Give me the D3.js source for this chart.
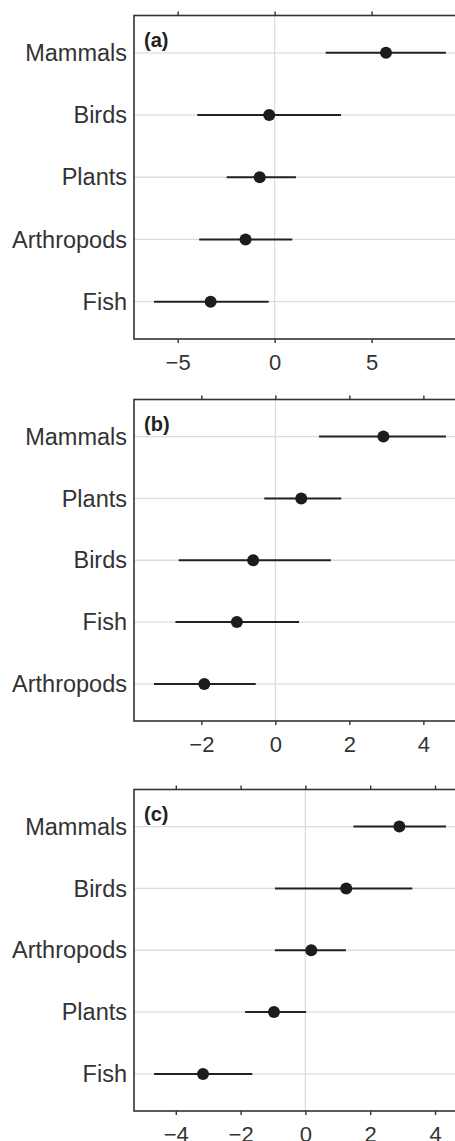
<!DOCTYPE html>
<html>
<head>
<meta charset="utf-8">
<script src="https://cdn.jsdelivr.net/npm/d3@7"></script>
<style>
    body { margin: 0; background: #fff; }
    svg { display: block; font-family: "Liberation Sans", Arial, Helvetica, sans-serif; }
    .grid { stroke: #dcdcdc; stroke-width: 1.3; }
    .frame { fill: none; stroke: #333; stroke-width: 1.6; }
    .bar { stroke: #222; stroke-width: 2; }
    .dot { fill: #1c1c1c; }
    .cat { fill: #333; font-size: 23.5px; }
    .tick text { fill: #333; font-size: 22px; }
    .tick line { stroke: #333; stroke-width: 1.4; }
    .tag { fill: #222; font-size: 20px; font-weight: bold; }
</style>
</head>
<body>
<svg id="vis_svg" width="455" height="1141"></svg>
<script>
// panel (a)
let catsA = ['Mammals', 'Birds', 'Plants', 'Arthropods', 'Fish'];
let estA = [5.74, -0.28, -0.77, -1.50, -3.30];
let lowA = [2.63, -3.99, -2.47, -3.89, -6.22];
let highA = [8.83, 3.42, 1.10, 0.91, -0.31];
let ticksA = [-5, 0, 5];
let domainA = [-7.25, 10.07];

// panel (b)
let catsB = ['Mammals', 'Plants', 'Birds', 'Fish', 'Arthropods'];
let estB = [2.92, 0.70, -0.60, -1.04, -1.92];
let lowB = [1.18, -0.30, -2.61, -2.70, -3.28];
let highB = [4.61, 1.78, 1.50, 0.64, -0.53];
let ticksB = [-2, 0, 2, 4];
let domainB = [-3.82, 5.26];

// panel (c)
let catsC = ['Mammals', 'Birds', 'Arthropods', 'Plants', 'Fish'];
let estC = [2.90, 1.26, 0.18, -0.97, -3.16];
let lowC = [1.48, -0.94, -0.94, -1.86, -4.67];
let highC = [4.34, 3.30, 1.25, 0.02, -1.64];
let ticksC = [-4, -2, 0, 2, 4];
let domainC = [-5.29, 5.08];

let svg = d3.select('svg#vis_svg');

// plot area is wider than the window, right side is cut off like the original
let left = 134;
let right = 470;

/**
 * Draw one forest-plot panel.
 */
function drawPanel(tag, cats, est, low, high, ticks, domain, top, bottom) {
    let x = d3.scaleLinear().domain(domain).range([left, right]);
    let y = d3.scalePoint().domain(cats).range([top, bottom]).padding(0.6);

    let rows = cats.map((c, i) => ({name: c, est: est[i], low: low[i], high: high[i]}));
    let g = svg.append('g');

    // horizontal grid for each category
    g.selectAll('line.hgrid')
        .data(cats)
        .enter()
        .append('line')
        .attr('class', 'grid')
        .attr('x1', left).attr('x2', right)
        .attr('y1', d => y(d)).attr('y2', d => y(d));

    // zero line
    g.append('line')
        .attr('class', 'grid')
        .attr('x1', x(0)).attr('x2', x(0))
        .attr('y1', top).attr('y2', bottom);

    // error bars and points
    g.selectAll('line.bar')
        .data(rows)
        .enter()
        .append('line')
        .attr('class', 'bar')
        .attr('x1', d => x(d.low)).attr('x2', d => x(d.high))
        .attr('y1', d => y(d.name)).attr('y2', d => y(d.name));

    g.selectAll('circle')
        .data(rows)
        .enter()
        .append('circle')
        .attr('class', 'dot')
        .attr('r', 6)
        .attr('cx', d => x(d.est))
        .attr('cy', d => y(d.name));

    // axes: labels at bottom, ticks only at top
    let bottomAxis = g.append('g')
        .attr('transform', 'translate(0,' + bottom + ')')
        .call(d3.axisBottom(x).tickValues(ticks).tickSize(4).tickPadding(11)
            .tickFormat(d => d < 0 ? '\u2212' + Math.abs(d) : d));
    bottomAxis.select('.domain').remove();
    bottomAxis.selectAll('text').attr('dy', '0.71em');

    let topAxis = g.append('g')
        .attr('transform', 'translate(0,' + top + ')')
        .call(d3.axisTop(x).tickValues(ticks).tickSize(4).tickFormat(''));
    topAxis.select('.domain').remove();

    // category labels
    g.selectAll('text.cat')
        .data(cats)
        .enter()
        .append('text')
        .attr('class', 'cat')
        .attr('x', left - 7)
        .attr('y', d => y(d))
        .attr('dy', '0.35em')
        .attr('text-anchor', 'end')
        .text(d => d);

    // frame
    g.append('rect')
        .attr('class', 'frame')
        .attr('x', left).attr('y', top)
        .attr('width', right - left).attr('height', bottom - top);

    g.append('text')
        .attr('class', 'tag')
        .attr('x', left + 10)
        .attr('y', top + 31)
        .text(tag);
}

drawPanel('(a)', catsA, estA, lowA, highA, ticksA, domainA, 15.5, 339);
drawPanel('(b)', catsB, estB, lowB, highB, ticksB, domainB, 399.5, 721);
drawPanel('(c)', catsC, estC, lowC, highC, ticksC, domainC, 789.5, 1111);
</script>
</body>
</html>
